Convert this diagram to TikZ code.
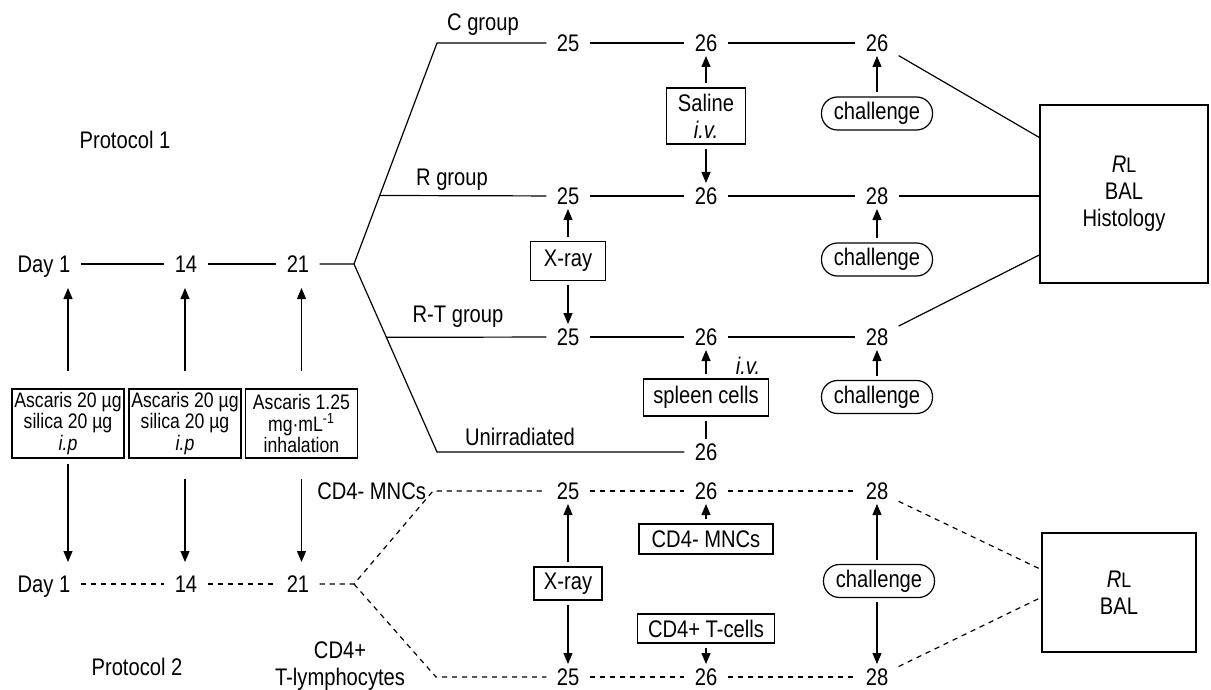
\documentclass[tikz,border=0pt]{standalone}
\usepackage{fontspec}
\setmainfont{Liberation Sans}[FakeStretch=0.84]
\usepackage{tikz}
\usetikzlibrary{arrows.meta,positioning,calc}

\begin{document}
\begin{tikzpicture}[x=0.5pt, y=-0.5pt, font=\fontsize{12}{13.5}\selectfont,
  n/.style={inner xsep=5pt, inner ysep=2pt, text height=8.6pt, text depth=0pt},
  bx/.style={draw, line width=0.6pt, inner sep=1pt, align=center},
  sm/.style={bx, font=\fontsize{10.5}{10.6}\selectfont, minimum width=56pt, minimum height=34.5pt},
  pill/.style={draw, line width=0.6pt, rounded corners=8pt, minimum width=55.5pt, minimum height=16.5pt, inner sep=1pt},
  ln/.style={line width=0.6pt},
  dsh/.style={ln, dash pattern=on 2.6pt off 2.4pt},
  ar/.style={ln, shorten <=2pt, -{Triangle[length=5.5pt,width=4.5pt]}}]
\useasboundingbox (0,0) rectangle (1211,690);

% protocol 1
\node[n] (D1)  at (44,264)  {Day 1};
\node[n] (D14) at (186,264) {14};
\node[n] (D21) at (298,264) {21};
\coordinate (fk) at (354,264);
\coordinate (cC) at (437,43);
\coordinate (cU) at (437,452);
\coordinate (cR) at ($(fk)!0.31!(cC)$);
\coordinate (cT) at ($(fk)!0.39!(cU)$);

\node[n] (C1) at (568,43)  {25};
\node[n] (C2) at (706,43)  {26};
\node[n] (C3) at (877,43)  {26};
\node[n] (R1) at (568,196) {25};
\node[n] (R2) at (706,196) {26};
\node[n] (R3) at (877,196) {28};
\node[n] (T1) at (568,337) {25};
\node[n] (T2) at (706,337) {26};
\node[n] (T3) at (877,337) {28};
\node[n] (U2) at (706,452) {26};

\node (lC) at (483,25)  {C group};
\node (lR) at (452,180) {R group};
\node (lT) at (458,317) {R-T group};
\node (lU) at (520,437) {Unirradiated};
\node (p1) at (125,140) {Protocol 1};

\node[bx, minimum width=84pt, minimum height=89pt] (out1) at (1124,194)
  {\textit{R}{\fontsize{10.5}{10}\selectfont L}\\BAL\\Histology};
\coordinate (o1a) at ($(out1.north west)!0.185!(out1.south west)$);
\coordinate (o1c) at ($(out1.north west)!0.84!(out1.south west)$);

\draw[ln] (D1) -- (D14);
\draw[ln] (D14) -- (D21);
\draw[ln] (D21) -- (fk) -- (cC) -- (C1);
\draw[ln] (fk) -- (cU) -- (U2);
\draw[ln] (cR) -- (R1);
\draw[ln] (cT) -- (T1);
\foreach \a/\b in {C1/C2,C2/C3,R1/R2,R2/R3,T1/T2,T2/T3}
  \draw[ln] (\a) -- (\b);
\draw[ln] (C3) -- (o1a);
\draw[ln] (R3) -- (R3 -| out1.west);
\draw[ln] (T3) -- (o1c);

\node[bx, minimum width=39.5pt, minimum height=28pt] (sal) at (706,116) {Saline\\\textit{i.v.}};
\node[bx, minimum width=37.5pt, minimum height=19.5pt] (xr1) at (568,261) {X-ray};
\node[bx, minimum width=62.5pt, minimum height=18.5pt] (spl) at (706,397.5) {spleen cells};
\node (iv) at (748,366) {\textit{i.v.}};
\node[pill] (ch1) at (877,113.5) {challenge};
\node[pill] (ch2) at (877,259.5) {challenge};
\node[pill] (ch3) at (877,397) {challenge};

\draw[ar] (sal) -- (C2);
\draw[ar] (sal) -- (R2);
\draw[ar] (xr1) -- (R1);
\draw[ar] (xr1) -- (T1);
\draw[ar] (spl) -- (T2);
\draw[ln, shorten <=2pt] (spl) -- (U2);
\draw[ar] (ch1) -- (C3);
\draw[ar] (ch2) -- (R3);
\draw[ar] (ch3) -- (T3);

% treatments
\node[sm] (B1) at (68,423.5)    {Ascaris 20 µg\\silica 20 µg\\\textit{i.p}};
\node[sm] (B2) at (185,423.5)   {Ascaris 20 µg\\silica 20 µg\\\textit{i.p}};
\node[sm] (B3) at (301.5,423.5) {Ascaris 1.25\\mg·mL\textsuperscript{-1}\\inhalation};

% protocol 2
\node[n] (E1)  at (44,584)  {Day 1};
\node[n] (E14) at (186,584) {14};
\node[n] (E21) at (298,584) {21};
\coordinate (fk2) at (354,584);
\coordinate (cM) at (433,491);
\coordinate (cL) at (436,677);

\node[n] (M1) at (568,491) {25};
\node[n] (M2) at (706,491) {26};
\node[n] (M3) at (877,491) {28};
\node[n] (L1) at (568,677) {25};
\node[n] (L2) at (706,677) {26};
\node[n] (L3) at (877,677) {28};

\node[anchor=east] (lM) at (cM) {CD4- MNCs};
\node[align=center] (lL) at (340,666) {CD4+\\T-lymphocytes};
\node (p2) at (137,667) {Protocol 2};

\node[bx, minimum width=77pt, minimum height=59.5pt] (out2) at (1119,592.5)
  {\textit{R}{\fontsize{10.5}{10}\selectfont L}\\BAL};
\coordinate (o2a) at ($(out2.north west)!0.31!(out2.south west)$);
\coordinate (o2b) at ($(out2.north west)!0.54!(out2.south west)$);

\draw[dsh] (E1) -- (E14);
\draw[dsh] (E14) -- (E21);
\draw[dsh] (E21) -- (fk2) -- (cM) -- (M1);
\draw[dsh] (fk2) -- (cL) -- (L1);
\foreach \a/\b in {M1/M2,M2/M3,L1/L2,L2/L3}
  \draw[dsh] (\a) -- (\b);
\draw[dsh] (M3) -- (o2a);
\draw[dsh] (L3) -- (o2b);

\node[bx, minimum width=34pt, minimum height=16.5pt] (xr2) at (568,583.5) {X-ray};
\node[bx, minimum width=67pt, minimum height=15pt] (mnc) at (706,539) {CD4- MNCs};
\node[bx, minimum width=68.5pt, minimum height=14.5pt] (tc) at (706,628.5) {CD4+ T-cells};
\node[pill] (ch4) at (879,581) {challenge};

\draw[ar] (xr2) -- (M1);
\draw[ar] (xr2) -- (L1);
\draw[ar] (mnc) -- (M2);
\draw[ar] (tc) -- (L2);
\draw[ar] (ch4.north -| M3) -- (M3);
\draw[ar] (ch4.south -| L3) -- (L3);

% day arrows
\foreach \b/\d in {B1/D1,B2/D14,B3/D21}
  \draw[ar, shorten <=8.5pt, shorten >=5.5pt] (\b.north) -- (\b.north |- \d.south);
\foreach \b/\d/\s in {B1/E1/2.5pt,B2/E14/10pt,B3/E21/10pt}
  \draw[ar, shorten <=\s, shorten >=4.5pt] (\b.south) -- (\b.south |- \d.north);
\end{tikzpicture}
\end{document}
